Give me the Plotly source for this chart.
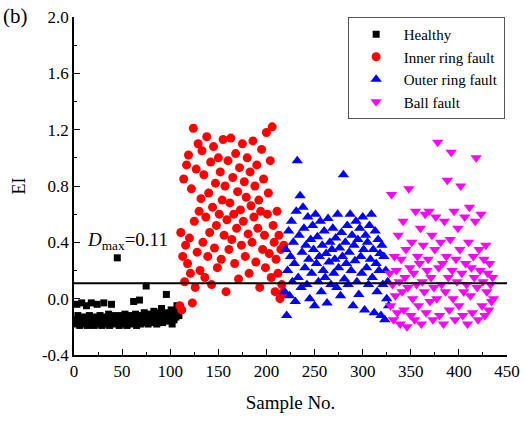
import plotly.graph_objects as go

healthy = [-0.15,-0.18,-0.04,-0.12,-0.17,-0.19,-0.14,-0.03,-0.16,-0.18,
-0.13,-0.17,-0.05,-0.19,-0.15,-0.12,-0.18,-0.03,-0.16,-0.14,
-0.19,-0.13,-0.17,-0.04,-0.15,-0.18,-0.12,-0.16,-0.19,-0.14,
-0.03,-0.17,-0.13,-0.18,-0.15,-0.11,-0.19,-0.16,-0.04,-0.14,
-0.17,-0.12,-0.18,-0.15,0.29,-0.13,-0.19,-0.16,-0.12,-0.17,
-0.14,-0.18,-0.11,-0.15,-0.19,-0.13,-0.16,-0.12,-0.18,-0.14,
-0.17,-0.02,-0.15,-0.11,-0.19,-0.13,-0.16,-0.01,-0.18,-0.12,
-0.14,-0.17,-0.1,-0.15,0.09,-0.13,-0.18,-0.11,-0.16,-0.14,
-0.12,-0.17,-0.09,-0.15,-0.13,-0.18,-0.1,-0.16,-0.12,-0.14,
-0.07,-0.17,-0.11,-0.15,-0.13,0.03,-0.16,-0.1,-0.14,-0.12,
-0.08,-0.18,-0.11,-0.15,-0.09,-0.13,-0.05,-0.1,-0.12]

inner = [-0.05,0.47,-0.08,0.3,0.85,0.12,0.38,0.95,0.25,1.02,
0.43,0.18,0.78,-0.03,1.21,0.55,0.08,0.92,0.33,1.1,
0.62,0.2,0.71,1.05,0.4,0.88,0.15,0.58,1.15,0.3,
0.75,0.47,0.97,0.1,0.65,1.08,0.36,0.82,0.52,0.22,
1.0,0.6,0.9,0.28,0.7,1.13,0.45,0.8,0.05,0.56,
0.98,0.35,0.68,1.14,0.42,0.86,0.6,0.25,1.03,0.5,
0.76,0.14,0.93,0.63,0.38,1.1,0.55,0.83,0.3,0.72,
1.0,0.46,0.18,0.9,0.66,0.4,1.12,0.58,0.8,0.26,
0.95,0.5,0.7,0.08,0.62,1.06,0.35,0.85,0.45,0.22,
1.18,0.6,0.75,0.32,0.98,0.15,1.22,0.52,0.4,0.05,
0.28,0.62,0.18,0.45,0.0,0.35,0.1,0.04,0.38]

outer = [0.05,0.35,-0.12,0.2,0.48,0.02,0.3,0.55,0.12,0.4,
0.25,-0.02,0.62,0.98,0.15,0.45,0.73,0.08,0.33,0.65,
0.5,0.22,0.38,0.1,0.58,0.28,0.0,0.42,0.18,0.52,
0.35,-0.05,0.6,0.25,0.44,0.12,0.3,0.55,0.05,0.38,
0.2,0.48,0.15,0.32,-0.03,0.57,0.26,0.4,0.1,0.35,
0.5,0.18,0.28,0.43,0.08,0.6,0.22,0.36,0.02,0.47,
0.3,0.88,0.14,0.4,0.25,0.52,0.1,0.33,0.6,0.2,
0.45,-0.05,0.38,0.27,0.55,0.12,0.42,0.03,0.5,0.3,
0.18,0.58,0.35,-0.08,0.45,0.22,0.4,0.1,0.52,0.28,
0.6,0.15,0.35,-0.1,0.48,0.25,0.05,0.42,0.2,0.32,
-0.12,0.38,0.1,0.3,-0.15,0.2,0.0,0.12,-0.05]

ball = [0.18,-0.05,0.74,0.1,-0.15,0.3,0.02,0.2,-0.1,0.45,
0.12,-0.18,0.28,0.05,0.55,-0.08,0.15,0.35,-0.2,0.08,
0.78,0.22,-0.12,0.4,0.0,0.18,-0.15,0.62,0.1,0.3,
-0.05,0.25,0.5,-0.18,0.12,0.38,0.05,0.6,-0.1,0.2,
0.28,0.62,-0.02,0.15,0.45,-0.15,0.08,0.35,0.58,0.0,
1.11,0.22,-0.12,0.4,0.1,0.25,-0.18,0.55,0.05,0.3,
0.84,0.15,-0.08,0.42,1.04,0.2,0.0,0.62,-0.15,0.28,
0.12,0.5,-0.05,0.35,0.8,0.18,-0.12,0.05,0.58,0.25,
0.1,-0.18,0.4,0.65,0.02,0.22,-0.1,0.3,0.15,0.55,
1.0,0.08,-0.15,0.35,0.2,0.6,-0.05,0.12,0.28,-0.12,
0.38,0.05,0.18,-0.08,0.25,0.1,-0.02,0.15,0.0]

series_names = ["Healthy", "Inner ring fault", "Outer ring fault", "Ball fault"]
dmax = 0.11
x_ticks = [0, 50, 100, 150, 200, 250, 300, 350, 400, 450]
y_ticks = [-0.4, 0.0, 0.4, 0.8, 1.2, 1.6, 2.0]
y_ticktext = ["-0.4", "0.0", "0.4", "0.8", "1.2", "1.6", "2.0"]

FONT = "Liberation Serif, Times New Roman, serif"
styles = [
    dict(symbol="square", color="#000000", size=7),
    dict(symbol="circle", color="#ff0000", size=9),
    dict(symbol="triangle-up", color="#0000ff", size=10),
    dict(symbol="triangle-down", color="#ff00ff", size=10),
]

fig = go.Figure()
start = 1
for name, vals, st in zip(series_names, [healthy, inner, outer, ball], styles):
    xs = list(range(start, start + len(vals)))
    start += len(vals)
    fig.add_trace(go.Scatter(x=xs, y=vals, mode="markers", name=name,
                             marker=dict(symbol=st["symbol"], color=st["color"],
                                         size=st["size"], line=dict(width=0))))

fig.add_shape(type="line", xref="x", yref="y", x0=0, x1=450, y0=dmax, y1=dmax,
              line=dict(color="black", width=2))

fig.add_annotation(x=11, y=0.41, xref="x", yref="y", xanchor="left", yanchor="middle",
                   text="<i>D</i><sub>max</sub>=%.2f" % dmax, showarrow=False,
                   font=dict(family=FONT, size=19, color="black"))
fig.add_annotation(x=-0.168, y=1.045, xref="paper", yref="paper", xanchor="left", yanchor="top",
                   text="(b)", showarrow=False,
                   font=dict(family=FONT, size=21, color="black"))

axis_common = dict(showline=True, linecolor="black", linewidth=1.5, ticks="inside",
                   ticklen=6, tickwidth=1.2, tickcolor="black", showgrid=False,
                   zeroline=False, mirror=False,
                   tickfont=dict(family=FONT, size=17, color="black"))

fig.update_xaxes(range=[0, 450], tickvals=x_ticks,
                 minor=dict(ticks="inside", ticklen=3, tickwidth=1.2, tickcolor="black", dtick=25, tick0=0),
                 title=dict(text="Sample No.", font=dict(family=FONT, size=19, color="black"), standoff=16),
                 **axis_common)
fig.update_yaxes(range=[-0.4, 2.0], tickvals=y_ticks, ticktext=y_ticktext,
                 minor=dict(ticks="inside", ticklen=3, tickwidth=1.2, tickcolor="black", dtick=0.2, tick0=0),
                 title=dict(text="EI", font=dict(family=FONT, size=18, color="black"), standoff=12),
                 **axis_common)

fig.update_layout(
    width=524, height=421,
    margin=dict(l=74, r=17, t=17, b=66, autoexpand=False),
    plot_bgcolor="white", paper_bgcolor="white",
    font=dict(family=FONT, color="black"),
    legend=dict(x=0.632, y=1.0, xanchor="left", yanchor="top",
                bgcolor="white", bordercolor="#555555", borderwidth=1,
                font=dict(family=FONT, size=15, color="black"),
                itemwidth=45, tracegroupgap=0),
)

fig.write_html("out.html")
